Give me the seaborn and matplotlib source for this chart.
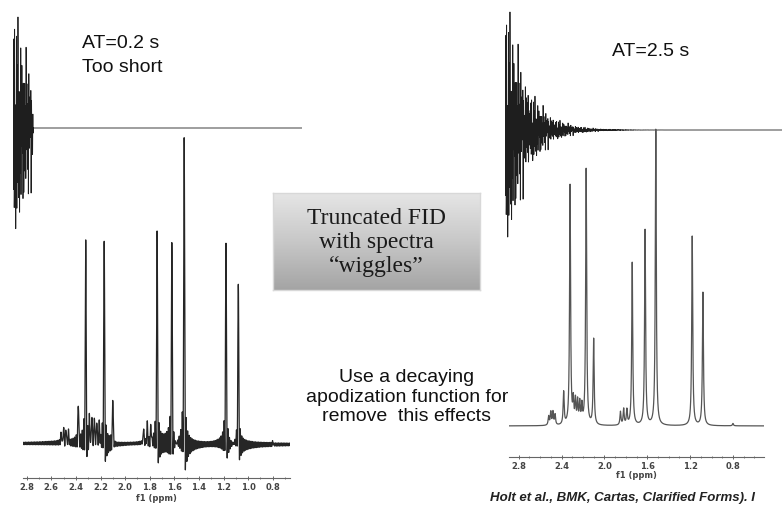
import numpy as np
import pandas as pd
import matplotlib
matplotlib.use("Agg")
import matplotlib.pyplot as plt
import seaborn as sns
from matplotlib.ticker import MultipleLocator, FormatStrFormatter
from matplotlib.colors import LinearSegmentedColormap

sns.set_theme(style="white")
plt.rcParams["font.family"] = ["Liberation Sans", "DejaVu Sans"]

W, H = 782, 505

# ---------------- data ----------------
peak_ppm = [2.52, 2.50, 2.48, 2.46, 2.38, 2.32, 2.29, 2.27, 2.25, 2.23, 2.21,
            2.17, 2.10, 1.85, 1.82, 1.79, 1.74, 1.62, 1.52, 1.18, 1.08, 0.80]
left_height = [0.03, 0.045, 0.045, 0.035, 0.13, 0.66, 0.08, 0.085, 0.08, 0.07, 0.06,
               0.66, 0.15, 0.05, 0.06, 0.055, 0.70, 0.655, 1.0, 0.65, 0.52, 0.008]
right_height = [0.03, 0.044, 0.044, 0.035, 0.11, 0.81, 0.075, 0.078, 0.075, 0.07, 0.06,
                0.865, 0.29, 0.045, 0.054, 0.05, 0.55, 0.66, 1.0, 0.64, 0.45, 0.008]
fid_phase_deg = [0, 95, 210, 35, 150, 270, 60, 185, 300, 15, 120,
                 240, 330, 75, 200, 310, 45, 165, 285, 100, 220, 340]

spec_freq_mhz = 400.0          # 1 ppm = 400 Hz
carrier_ppm = 1.80
acq_short = 0.2                # s
acq_long = 2.5                 # s
decay_short = 5.0              # 1/s
decay_long = 14.0              # 1/s
phase_short = -0.08            # rad, small phase error of the truncated spectrum
fid_t2 = 0.2                   # s, envelope of the drawn FIDs

left_ticks_major, left_ticks_minor = 0.2, 0.1
right_ticks_major, right_ticks_minor = 0.4, 0.1


def spectrum(ppm_axis, heights, at, decay, phase=0.0):
    total = np.zeros_like(ppm_axis)
    norm = (1 - np.exp(-decay * at)) / decay
    for p, h in zip(peak_ppm, heights):
        dw = 2 * np.pi * (ppm_axis - p) * spec_freq_mhz
        z = decay - 1j * dw
        s = (1 - np.exp(-z * at)) / z
        total += h * (np.exp(1j * phase) * s).real / norm
    return total


def fid(t, heights, at):
    sig = np.zeros_like(t)
    for p, h, ph in zip(peak_ppm, heights, fid_phase_deg):
        f = (p - carrier_ppm) * spec_freq_mhz
        sig += h * np.cos(2 * np.pi * f * t + np.deg2rad(ph))
    sig *= np.exp(-t / fid_t2)
    sig[t > at] = 0.0
    return sig


fig = plt.figure(figsize=(W / 100, H / 100), dpi=100)
fig.patch.set_facecolor("white")


def px_axes(x0, y0, x1, y1):
    ax = fig.add_axes([x0 / W, 1 - y1 / H, (x1 - x0) / W, (y1 - y0) / H])
    ax.patch.set_alpha(0)
    return ax


# ---------------- FIDs ----------------
dt = 1 / 4000
t_left = np.arange(0, 2.89, dt)
t_right = np.arange(0, 2.77, dt)
fid_left = fid(t_left, right_height, acq_short)
fid_right = fid(t_right, right_height, acq_long)
M = max(np.abs(fid_right).max(), 1e-9)
top_left = max(fid_left.max(), 1e-9)

ax_f1 = px_axes(13, 10, 302, 246)
sns.lineplot(x=t_left, y=fid_left, ax=ax_f1, color="#1e1e1e", linewidth=0.6,
             estimator=None, sort=False, legend=False)
ax_f1.set_xlim(0, 2.89)
ax_f1.set_ylim(-top_left * 118 / 111, top_left * 118 / 111)
ax_f1.axis("off")

ax_f2 = px_axes(505, 5, 782, 255)
sns.lineplot(x=t_right, y=fid_right, ax=ax_f2, color="#1e1e1e", linewidth=0.6,
             estimator=None, sort=False, legend=False)
ax_f2.set_xlim(0, 2.77)
ax_f2.set_ylim(-M * 125 / 118, M * 125 / 118)
ax_f2.axis("off")

# ---------------- spectra ----------------
ppm_left = np.linspace(2.83, 0.66, 24000)
ppm_right = np.linspace(2.89, 0.51, 14000)
spec_left = spectrum(ppm_left, left_height, acq_short, decay_short, phase_short)
spec_right = spectrum(ppm_right, right_height, acq_long, decay_long)


def style_spec(ax, xlim, ylim, major, minor, labelpad):
    ax.set_xlim(*xlim)
    ax.set_ylim(*ylim)
    for s in ["top", "left", "right"]:
        ax.spines[s].set_visible(False)
    ax.spines["bottom"].set_color("#666666")
    ax.spines["bottom"].set_linewidth(0.8)
    ax.set_yticks([])
    ax.xaxis.set_major_locator(MultipleLocator(major))
    ax.xaxis.set_minor_locator(MultipleLocator(minor))
    ax.xaxis.set_major_formatter(FormatStrFormatter("%.1f"))
    ax.tick_params(axis="x", which="major", direction="inout", length=3, width=0.7,
                   color="#666666", pad=2, labelsize=6, labelcolor="#444444",
                   bottom=True)
    ax.tick_params(axis="x", which="minor", direction="inout", length=2, width=0.6,
                   color="#666666", bottom=True)
    for lab in ax.get_xticklabels():
        lab.set_fontweight("bold")
        lab.set_family("DejaVu Sans")
    ax.set_xlabel("f1 (ppm)", fontsize=6, fontweight="bold", color="#444444",
                  family="DejaVu Sans", labelpad=labelpad)
    ax.set_ylabel("")


ax_s1 = px_axes(23, 130, 290, 478)
sns.lineplot(x=ppm_left, y=spec_left, ax=ax_s1, color="#262626", linewidth=0.9,
             estimator=None, sort=False, legend=False)
style_spec(ax_s1, (2.83, 0.66), (-0.111, 1.023), left_ticks_major, left_ticks_minor, 1.5)

ax_s2 = px_axes(509, 125, 764, 457)
sns.lineplot(x=ppm_right, y=spec_right, ax=ax_s2, color="#555555", linewidth=0.9,
             estimator=None, sort=False, legend=False)
style_spec(ax_s2, (2.89, 0.51), (-0.105, 1.017), right_ticks_major, right_ticks_minor, 0)

# ---------------- gradient box ----------------
ax_b = px_axes(273, 193, 480, 290)
grad = np.linspace(0, 1, 256).reshape(-1, 1)
cmap = LinearSegmentedColormap.from_list("g", ["#e6e6e6", "#c8c8c8", "#a4a4a4"])
ax_b.imshow(grad, aspect="auto", cmap=cmap, extent=(0, 1, 0, 1), origin="upper")
ax_b.set_xlim(0, 1)
ax_b.set_ylim(0, 1)
for s in ax_b.spines.values():
    s.set_color("#d8d8d8")
    s.set_linewidth(1.0)
ax_b.set_xticks([])
ax_b.set_yticks([])
ax_b.text(0.5, 0.49, "Truncated FID\nwith spectra\n\u201cwiggles\u201d", ha="center",
          va="center", fontsize=17, family="Liberation Serif", color="#1a1a1a",
          linespacing=1.17, transform=ax_b.transAxes)


# ---------------- texts ----------------
def ftext(x, y, s, **kw):
    fig.text(x / W, 1 - y / H, s, **kw)


ftext(82, 43, "AT=0.2 s", fontsize=14, va="center", ha="left", color="#111111")
ftext(82, 68, "Too short", fontsize=14, va="center", ha="left", color="#111111")
ftext(612, 52, "AT=2.5 s", fontsize=14, va="center", ha="left", color="#111111")
ftext(407, 397, "Use a decaying\napodization function for\nremove  this effects",
      fontsize=14, va="center", ha="center", color="#111111", linespacing=1.2)
ftext(490, 498, "Holt et al., BMK, Cartas, Clarified Forms). I", fontsize=9.5,
      fontweight="bold", style="italic", va="center", ha="left", color="#222222")

fig.savefig("out.png", dpi=100, facecolor="white")
